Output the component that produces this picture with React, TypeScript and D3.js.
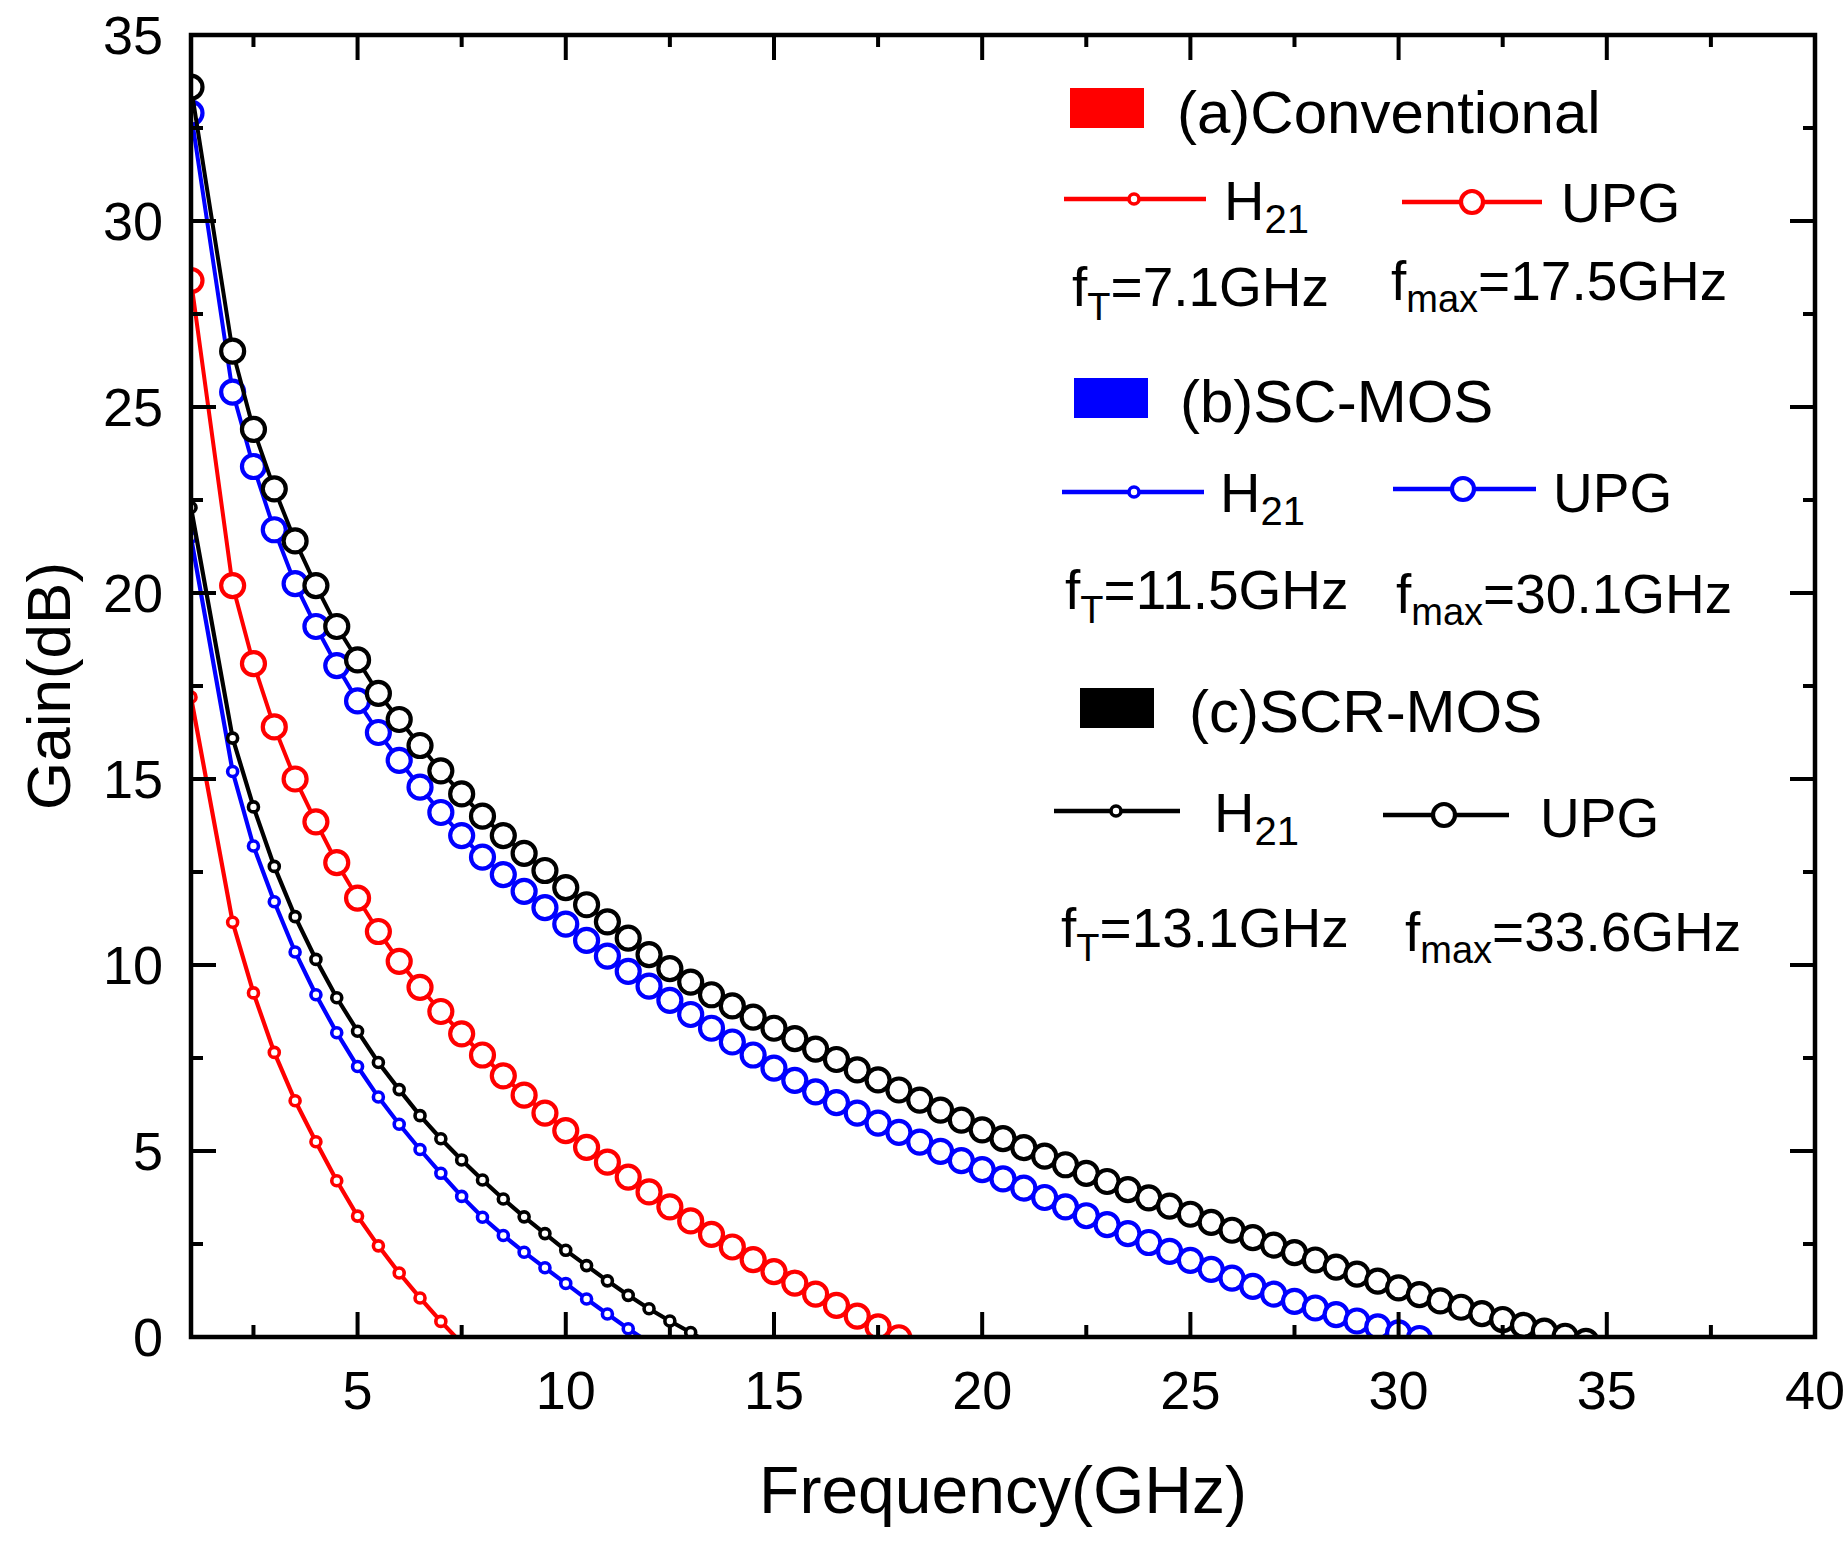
import * as d3 from 'd3'

// frequency grid (GHz) of the measured points
const freqs = [1, 2, 2.5, 3, 3.5, 4, 4.5, 5, 5.5, 6, 6.5, 7, 7.5, 8, 8.5, 9, 9.5, 10, 10.5, 11, 11.5, 12, 12.5, 13, 13.5,
  14, 14.5, 15, 15.5, 16, 16.5, 17, 17.5, 18, 18.5, 19, 19.5, 20, 20.5, 21, 21.5, 22, 22.5, 23, 23.5, 24, 24.5, 25, 25.5,
  26, 26.5, 27, 27.5, 28, 28.5, 29, 29.5, 30, 30.5, 31, 31.5, 32, 32.5, 33, 33.5, 34, 34.5]

// gain values (dB)
const convH21 = [17.2, 11.15, 9.25, 7.65, 6.35, 5.25, 4.2, 3.25, 2.45, 1.72, 1.05, 0.42, -0.17]
const convUPG = [28.4, 20.2, 18.1, 16.4, 15.0, 13.85, 12.75, 11.8, 10.9, 10.1, 9.4, 8.75, 8.15, 7.58, 7.02, 6.5, 6.02,
  5.55, 5.1, 4.7, 4.3, 3.9, 3.5, 3.12, 2.76, 2.42, 2.08, 1.76, 1.45, 1.15, 0.85, 0.56, 0.27, -0.02]
const scH21 = [21.5, 15.2, 13.2, 11.7, 10.35, 9.2, 8.18, 7.27, 6.45, 5.72, 5.04, 4.4, 3.78, 3.22, 2.73, 2.28, 1.86,
  1.44, 1.02, 0.62, 0.22, -0.15]
const scUPG = [32.9, 25.4, 23.4, 21.7, 20.25, 19.1, 18.05, 17.1, 16.25, 15.5, 14.78, 14.1, 13.48, 12.9, 12.43, 11.98,
  11.54, 11.1, 10.66, 10.24, 9.83, 9.43, 9.05, 8.67, 8.3, 7.93, 7.58, 7.23, 6.9, 6.59, 6.3, 6.02, 5.75, 5.5, 5.24,
  4.99, 4.74, 4.5, 4.25, 4.0, 3.75, 3.5, 3.26, 3.02, 2.78, 2.54, 2.3, 2.06, 1.82, 1.58, 1.36, 1.15, 0.96, 0.78, 0.6,
  0.43, 0.27, 0.11, -0.04]
const scrH21 = [22.3, 16.1, 14.25, 12.65, 11.3, 10.15, 9.12, 8.22, 7.38, 6.65, 5.95, 5.33, 4.76, 4.22, 3.71, 3.23,
  2.78, 2.33, 1.92, 1.51, 1.12, 0.76, 0.43, 0.12, -0.2]
const scrUPG = [33.6, 26.5, 24.4, 22.8, 21.4, 20.2, 19.1, 18.2, 17.3, 16.6, 15.9, 15.22, 14.6, 14.0, 13.48, 13.0,
  12.54, 12.08, 11.62, 11.16, 10.72, 10.28, 9.9, 9.54, 9.2, 8.9, 8.6, 8.3, 8.02, 7.74, 7.46, 7.18, 6.91, 6.64, 6.37,
  6.1, 5.83, 5.57, 5.33, 5.09, 4.86, 4.63, 4.4, 4.18, 3.96, 3.74, 3.52, 3.3, 3.08, 2.87, 2.67, 2.47, 2.27, 2.07, 1.88,
  1.69, 1.5, 1.32, 1.14, 0.97, 0.8, 0.63, 0.47, 0.31, 0.16, 0.02, -0.12]

const groupNames = ['(a)Conventional', '(b)SC-MOS', '(c)SCR-MOS']
const groupColors = ['#ff0000', '#0000ff', '#000000']
const ftLabels = ['7.1GHz', '11.5GHz', '13.1GHz']
const fmaxLabels = ['17.5GHz', '30.1GHz', '33.6GHz']

const xTicks = [5, 10, 15, 20, 25, 30, 35, 40]
const xMinorTicks = [2.5, 7.5, 12.5, 17.5, 22.5, 27.5, 32.5, 37.5]
const yTicks = [0, 5, 10, 15, 20, 25, 30, 35]
const yMinorTicks = [2.5, 7.5, 12.5, 17.5, 22.5, 27.5, 32.5]

const W = 1847
const H = 1544
const FONT = '"Liberation Sans", Arial, Helvetica, sans-serif'
const plot = { left: 191, right: 1815, top: 35, bottom: 1337 }

// legend placement for the three groups
const legendLayout = [
  { rect: [1070, 88], title: [1177, 133], h21: [1064, 1206, 199, 1134], hText: [1224, 220], upg: [1402, 1542, 202, 1472], upgText: [1561, 222], ft: [1072, 306], fmax: [1391, 300] },
  { rect: [1074, 378], title: [1180, 422], h21: [1062, 1204, 492, 1134], hText: [1220, 512], upg: [1393, 1536, 489, 1463], upgText: [1553, 512], ft: [1065, 609], fmax: [1396, 613] },
  { rect: [1080, 688], title: [1189, 732], h21: [1054, 1180, 811, 1116], hText: [1214, 832], upg: [1383, 1509, 815, 1444], upgText: [1540, 837], ft: [1061, 947], fmax: [1405, 951] },
]

type Pt = { f: number; g: number }
const zip = (vals: number[]): Pt[] => vals.map((g, i) => ({ f: freqs[i], g }))

const series = [
  { h21: zip(convH21), upg: zip(convUPG), color: groupColors[0] },
  { h21: zip(scH21), upg: zip(scUPG), color: groupColors[1] },
  { h21: zip(scrH21), upg: zip(scrUPG), color: groupColors[2] },
]

export default function App() {
  const x = d3.scaleLinear().domain([1, 40]).range([plot.left, plot.right])
  const y = d3.scaleLinear().domain([0, 35]).range([plot.bottom, plot.top])
  const line = d3.line<Pt>().x(d => x(d.f)).y(d => y(d.g))

  return (
    <svg width={W} height={H} viewBox={`0 0 ${W} ${H}`}
      style={{ position: 'absolute', left: 0, top: 0, display: 'block', background: '#fff' }}
      fontFamily={FONT}>
      <defs>
        <clipPath id="plotClip">
          <rect x={plot.left} y={plot.top} width={plot.right - plot.left} height={plot.bottom - plot.top} />
        </clipPath>
      </defs>

      {/* curves */}
      <g clipPath="url(#plotClip)">
        {series.map((s, si) => (
          <g key={si}>
            <path d={line(s.h21) || ''} fill="none" stroke={s.color} strokeWidth={4.2} />
            {s.h21.map((d, i) => (
              <circle key={i} cx={x(d.f)} cy={y(d.g)} r={5} fill="#fff" stroke={s.color} strokeWidth={3.6} />
            ))}
            <path d={line(s.upg) || ''} fill="none" stroke={s.color} strokeWidth={4} />
            {s.upg.map((d, i) => (
              <circle key={i} cx={x(d.f)} cy={y(d.g)} r={11.5} fill="#fff" stroke={s.color} strokeWidth={4.2} />
            ))}
          </g>
        ))}
      </g>

      {/* frame */}
      <rect x={plot.left} y={plot.top} width={plot.right - plot.left} height={plot.bottom - plot.top}
        fill="none" stroke="#000" strokeWidth={4.5} />

      {/* ticks */}
      <g stroke="#000" strokeWidth={4}>
        {xTicks.map(t => (
          <g key={'xt' + t}>
            <line x1={x(t)} x2={x(t)} y1={plot.bottom} y2={plot.bottom - 25} />
            <line x1={x(t)} x2={x(t)} y1={plot.top} y2={plot.top + 25} />
          </g>
        ))}
        {xMinorTicks.map(t => (
          <g key={'xm' + t}>
            <line x1={x(t)} x2={x(t)} y1={plot.bottom} y2={plot.bottom - 12} />
            <line x1={x(t)} x2={x(t)} y1={plot.top} y2={plot.top + 12} />
          </g>
        ))}
        {yTicks.map(t => (
          <g key={'yt' + t}>
            <line x1={plot.left} x2={plot.left + 25} y1={y(t)} y2={y(t)} />
            <line x1={plot.right} x2={plot.right - 25} y1={y(t)} y2={y(t)} />
          </g>
        ))}
        {yMinorTicks.map(t => (
          <g key={'ym' + t}>
            <line x1={plot.left} x2={plot.left + 12} y1={y(t)} y2={y(t)} />
            <line x1={plot.right} x2={plot.right - 12} y1={y(t)} y2={y(t)} />
          </g>
        ))}
      </g>

      {/* tick labels */}
      <g fontSize={54} fill="#000">
        {xTicks.map(t => (
          <text key={'xl' + t} x={x(t)} y={plot.bottom + 72} textAnchor="middle">{t}</text>
        ))}
        {yTicks.map(t => (
          <text key={'yl' + t} x={plot.left - 28} y={y(t) + 19} textAnchor="end">{t}</text>
        ))}
      </g>

      {/* axis titles */}
      <text x={(plot.left + plot.right) / 2} y={1513} fontSize={66} textAnchor="middle">Frequency(GHz)</text>
      <text transform={`translate(70, ${(plot.top + plot.bottom) / 2}) rotate(-90)`} fontSize={62} textAnchor="middle">Gain(dB)</text>

      {/* legend */}
      {legendLayout.map((L, i) => {
        const c = groupColors[i]
        return (
          <g key={'lg' + i}>
            <rect x={L.rect[0]} y={L.rect[1]} width={74} height={40} fill={c} />
            <text x={L.title[0]} y={L.title[1]} fontSize={60}>{groupNames[i]}</text>

            <line x1={L.h21[0]} x2={L.h21[1]} y1={L.h21[2]} y2={L.h21[2]} stroke={c} strokeWidth={4.5} />
            <circle cx={L.h21[3]} cy={L.h21[2]} r={5} fill="#fff" stroke={c} strokeWidth={3.6} />
            <text x={L.hText[0]} y={L.hText[1]} fontSize={56}>
              H<tspan fontSize={40} dy={13}>21</tspan>
            </text>

            <line x1={L.upg[0]} x2={L.upg[1]} y1={L.upg[2]} y2={L.upg[2]} stroke={c} strokeWidth={4.5} />
            <circle cx={L.upg[3]} cy={L.upg[2]} r={11} fill="#fff" stroke={c} strokeWidth={4.2} />
            <text x={L.upgText[0]} y={L.upgText[1]} fontSize={55}>UPG</text>

            <text x={L.ft[0]} y={L.ft[1]} fontSize={55}>
              f<tspan fontSize={38} dy={14}>T</tspan><tspan dy={-14}>={ftLabels[i]}</tspan>
            </text>
            <text x={L.fmax[0]} y={L.fmax[1]} fontSize={55}>
              f<tspan fontSize={38} dy={12}>max</tspan><tspan dy={-12}>={fmaxLabels[i]}</tspan>
            </text>
          </g>
        )
      })}
    </svg>
  )
}
